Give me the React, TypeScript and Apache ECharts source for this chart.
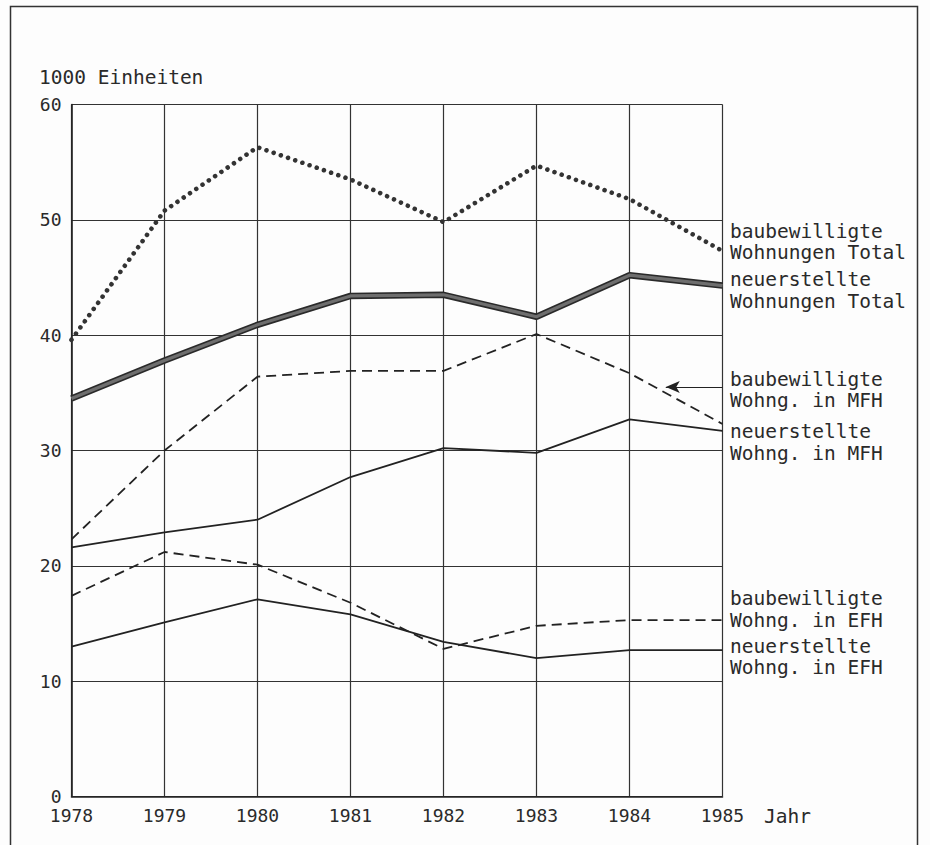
import React, { useEffect, useRef } from "react";
import * as echarts from "echarts";

const years = [1978, 1979, 1980, 1981, 1982, 1983, 1984, 1985];
const baubewTotal = [39.6, 50.8, 56.3, 53.5, 49.8, 54.7, 51.8, 47.3];
const neuTotal = [34.5, 37.8, 40.9, 43.4, 43.5, 41.6, 45.2, 44.3];
const baubewMFH = [22.3, 30.0, 36.4, 36.9, 36.9, 40.1, 36.7, 32.3];
const neuMFH = [21.6, 22.9, 24.0, 27.7, 30.2, 29.8, 32.7, 31.7];
const baubewEFH = [17.4, 21.2, 20.1, 16.8, 12.8, 14.8, 15.3, 15.3];
const neuEFH = [13.0, 15.1, 17.1, 15.8, 13.4, 12.0, 12.7, 12.7];

const yTicks = [0, 10, 20, 30, 40, 50, 60];

const seriesLabels = [
  { lines: ["baubewilligte", "Wohnungen Total"], y: 242 },
  { lines: ["neuerstellte", "Wohnungen Total"], y: 290.5 },
  { lines: ["baubewilligte", "Wohng. in MFH"], y: 390 },
  { lines: ["neuerstellte", "Wohng. in MFH"], y: 442.5 },
  { lines: ["baubewilligte", "Wohng. in EFH"], y: 609.5 },
  { lines: ["neuerstellte", "Wohng. in EFH"], y: 657 },
];

const FONT = "'DejaVu Sans Mono', 'Liberation Mono', monospace";
const INK = "#2a2a2a";

const pairs = (vals: number[]) => years.map((y, i) => [y, vals[i]]);

export default function App() {
  const ref = useRef<HTMLDivElement>(null);
  useEffect(() => {
    document.body.style.margin = "0";
    const chart = echarts.init(ref.current!, undefined, { renderer: "svg" });
    const thin = (name: string, data: number[], type: any) => ({
      name,
      type: "line",
      data: pairs(data),
      symbol: "none",
      lineStyle: { color: "#222", width: 1.8, type },
      z: 3,
    });
    chart.setOption({
      animation: false,
      backgroundColor: "#fdfdfd",
      grid: { left: 71.5, top: 104.5, width: 651, height: 692, containLabel: false },
      xAxis: {
        type: "value",
        min: 1978,
        max: 1985,
        interval: 1,
        axisLine: { show: true, lineStyle: { color: "#222", width: 1.6 } },
        axisTick: { show: false },
        axisLabel: {
          color: INK,
          fontFamily: FONT,
          fontSize: 18,
          lineHeight: 14,
          margin: 12,
          formatter: (v: number) => String(v),
        },
        splitLine: { show: true, lineStyle: { color: "#333", width: 1.2 } },
      },
      yAxis: {
        type: "value",
        min: 0,
        max: 60,
        interval: 10,
        axisLine: { show: true, lineStyle: { color: "#222", width: 1.6 } },
        axisTick: { show: false },
        axisLabel: {
          color: INK,
          fontFamily: FONT,
          fontSize: 18,
          lineHeight: 14,
          margin: 10,
          formatter: (v: number) => (yTicks.includes(v) ? String(v) : ""),
        },
        splitLine: { show: true, lineStyle: { color: "#333", width: 1.2 } },
      },
      series: [
        {
          name: "baubewilligte Wohnungen Total",
          type: "line",
          data: pairs(baubewTotal),
          symbol: "none",
          lineStyle: { color: "#333", width: 4.6, type: [0.001, 7.6], cap: "round" },
          z: 4,
        },
        {
          name: "neuerstellte Wohnungen Total (Rand)",
          type: "line",
          data: pairs(neuTotal),
          symbol: "none",
          lineStyle: { color: "#2a2a2a", width: 6.5 },
          z: 4,
        },
        {
          name: "neuerstellte Wohnungen Total",
          type: "line",
          data: pairs(neuTotal),
          symbol: "none",
          lineStyle: { color: "#6e6e6e", width: 3.2 },
          z: 5,
        },
        {
          ...thin("baubewilligte Wohng. in MFH", baubewMFH, [10, 6]),
          markLine: {
            silent: true,
            symbol: ["none", "arrow"],
            symbolSize: [9, 14],
            label: { show: false },
            lineStyle: { color: "#222", width: 1.2, type: "solid" },
            data: [[{ coord: [1985, 35.5] }, { coord: [1984.39, 35.5] }]],
          },
        },
        thin("neuerstellte Wohng. in MFH", neuMFH, "solid"),
        thin("baubewilligte Wohng. in EFH", baubewEFH, [10, 6]),
        thin("neuerstellte Wohng. in EFH", neuEFH, "solid"),
      ],
      graphic: [
        {
          type: "rect",
          shape: { x: 10.5, y: 6.5, width: 907, height: 900 },
          style: { fill: "none", stroke: "#333", lineWidth: 1.5 },
          silent: true,
          z: -1,
        },
        {
          type: "text",
          x: 39,
          y: 77,
          style: {
            text: "1000 Einheiten",
            fontFamily: FONT,
            fontSize: 19.5,
            fill: INK,
            verticalAlign: "middle",
            align: "left",
          },
        },
        {
          type: "text",
          x: 764,
          y: 816,
          style: {
            text: "Jahr",
            fontFamily: FONT,
            fontSize: 19.5,
            fill: INK,
            verticalAlign: "middle",
            align: "left",
          },
        },
        ...seriesLabels.map((l) => ({
          type: "text",
          x: 730,
          y: l.y,
          style: {
            text: l.lines.join("\n"),
            fontFamily: FONT,
            fontSize: 19.5,
            lineHeight: 21.5,
            fill: INK,
            verticalAlign: "middle",
            align: "left",
          },
        })),
      ],
    });
    return () => chart.dispose();
  }, []);
  return <div ref={ref} style={{ width: 930, height: 845 }} />;
}
